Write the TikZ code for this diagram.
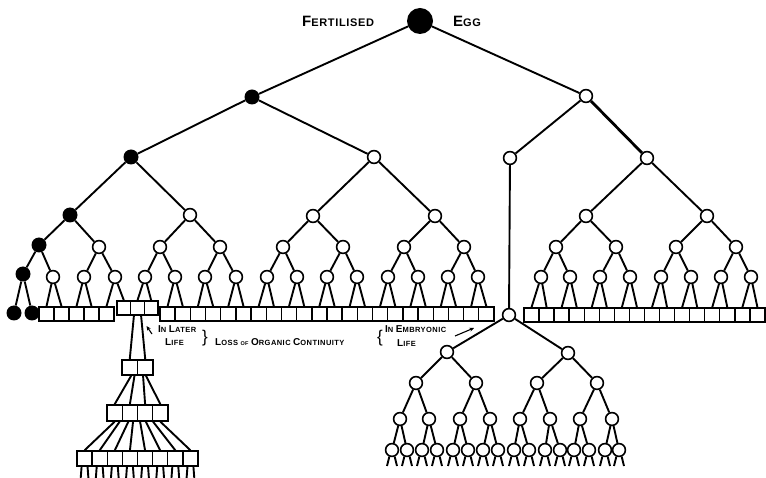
\documentclass[tikz,border=0pt]{standalone}
\usepackage{fontspec}
\setmainfont{Liberation Sans}
\newfontfamily\lettering[LetterSpace=6]{Liberation Sans Bold}
\usetikzlibrary{arrows.meta}
% hand-lettered small capitals
\newcommand\tbig{\fontsize{15}{15}\selectfont}
\newcommand\tsmall{\fontsize{11}{11}\selectfont}
\newcommand\lbig{\fontsize{10}{10}\selectfont}
\newcommand\lsmall{\fontsize{7.5}{7.5}\selectfont}
\newcommand\ltiny{\fontsize{5.5}{5.5}\selectfont}

\begin{document}
\begin{tikzpicture}[x=1pt,y=-1pt,
  wc/.style={circle,draw,line width=1.6pt,fill=white,minimum size=12.8pt,inner sep=0pt},
  bc/.style={circle,fill=black,minimum size=15pt,inner sep=0pt},
  bx/.style={rectangle,draw,line width=1.4pt,fill=white,inner sep=0pt},
  ln/.style={line width=1.9pt},
  lbl/.style={anchor=base west,inner sep=0pt},
  tip/.style={-{Stealth[length=4.5pt,width=4pt]},line width=1.1pt}]
\fill[white] (0,0) rectangle (766,478);
\useasboundingbox (0,0) rectangle (766,478);

% ---------- main lineage ----------
\node[bc,minimum size=26pt] (egg) at (420,21) {};
\node[bc] (a1) at (252,97) {};
\node[wc] (a2) at (586,96) {};
\node[bc] (b1) at (131,157) {};
\node[wc] (b2) at (374,157) {};
\node[bc] (c1) at (70,215) {};
\node[wc] (c2) at (190,215) {};
\node[wc] (c3) at (313,216) {};
\node[wc] (c4) at (435,216) {};
\node[bc] (d1) at (39,245) {};
\foreach \x [count=\i from 2] in {99,160,220,283,343,404,464}
  \node[wc] (d\i) at (\x,247) {};
\node[bc] (e0) at (23,274) {};
\foreach \x [count=\i] in {53,84,115,145,175,205,236,267,297,327,357,388,418,448,478}
  \node[wc] (e\i) at (\x,277) {};
\node[bc] (z1) at (14,313) {};
\node[bc] (z2) at (32,313) {};

% cells of the body
\foreach \i in {1,...,5}
  \node[bx,minimum width=15pt,minimum height=14pt] (p\i) at ({39+15*(\i-0.5)},314) {};
\foreach \i in {1,2,3}
  \node[bx,minimum width=13.67pt,minimum height=14pt] (r\i) at ({117+13.67*(\i-0.5)},308) {};
\foreach \i in {1,...,22}
  \node[bx,minimum width=15.18pt,minimum height=14pt] (m\i) at ({160+15.18*(\i-0.5)},314) {};

\draw[ln] (egg) -- (a1) (egg) -- (a2)
  (a1) -- (b1) (a1) -- (b2)
  (b1) -- (c1) (b1) -- (c2) (b2) -- (c3) (b2) -- (c4)
  (c1) -- (d1) (c1) -- (d2) (c2) -- (d3) (c2) -- (d4)
  (c3) -- (d5) (c3) -- (d6) (c4) -- (d7) (c4) -- (d8)
  (d1) -- (e0) (d1) -- (e1)
  (e0) -- (z1) (e0) -- (z2);
\foreach \i in {2,...,8}{
  \pgfmathtruncatemacro\ja{2*\i-2}
  \pgfmathtruncatemacro\jb{2*\i-1}
  \draw[ln] (d\i) -- (e\ja) (d\i) -- (e\jb);
}
\draw[ln] (e1) -- (p1.north) (e1) -- (p2.north)
  (e2) -- (p3.north) (e2) -- (p4.north)
  (e3) -- (p5.north) (e3) -- (r1.north)
  (e4) -- (r2.north) (e4) -- (r3.north);
\foreach \i in {5,...,15}{
  \pgfmathtruncatemacro\ja{2*\i-9}
  \pgfmathtruncatemacro\jb{2*\i-8}
  \draw[ln] (e\i) -- (m\ja.north) (e\i) -- (m\jb.north);
}

% ---------- right branch ----------
\node[wc] (f1) at (510,158) {};
\node[wc] (f2) at (647,158) {};
\node[wc] (g1) at (586,216) {};
\node[wc] (g2) at (707,216) {};
\foreach \x [count=\i] in {556,616,676,736}
  \node[wc] (h\i) at (\x,247) {};
\foreach \x [count=\i] in {541,570,600,630,661,691,721,751}
  \node[wc] (i\i) at (\x,277) {};
\foreach \i in {1,...,16}
  \node[bx,minimum width=15.06pt,minimum height=14pt] (q\i) at ({524+15.06*(\i-0.5)},315) {};

\draw[ln] (a2) -- (f1);
\draw[line width=2.8pt] (a2) -- (f2);
\draw[ln] (f2) -- (g1) (f2) -- (g2)
  (g1) -- (h1) (g1) -- (h2) (g2) -- (h3) (g2) -- (h4);
\foreach \i in {1,...,4}{
  \pgfmathtruncatemacro\ja{2*\i-1}
  \pgfmathtruncatemacro\jb{2*\i}
  \draw[ln] (h\i) -- (i\ja) (h\i) -- (i\jb);
}
\foreach \i in {1,...,8}{
  \pgfmathtruncatemacro\ja{2*\i-1}
  \pgfmathtruncatemacro\jb{2*\i}
  \draw[ln] (i\i) -- (q\ja.north) (i\i) -- (q\jb.north);
}

% ---------- embryonic germ line ----------
\node[wc] (em) at (509,315) {};
\node[wc] (u1) at (447,352) {};
\node[wc] (u2) at (568,353) {};
\foreach \x [count=\i] in {416,476,537,597}
  \node[wc] (v\i) at (\x,383) {};
\foreach \x [count=\i] in {400,429,460,490,520,550,580,612}
  \node[wc] (w\i) at (\x,419) {};
\foreach \x [count=\i] in {392,407,422,437,453,468,483,498,514,529,545,560,574,589,605,619}{
  \node[wc] (n\i) at (\x,450) {};
  \coordinate (nl\i) at (\x-5,466);
  \coordinate (nr\i) at (\x+5,466);
  \draw[ln] (n\i.-112) -- (nl\i) (n\i.-68) -- (nr\i);
}
\draw[ln] (f1) -- (em)
  (em) -- (u1) (em) -- (u2)
  (u1) -- (v1) (u1) -- (v2) (u2) -- (v3) (u2) -- (v4);
\foreach \i in {1,...,4}{
  \pgfmathtruncatemacro\ja{2*\i-1}
  \pgfmathtruncatemacro\jb{2*\i}
  \draw[ln] (v\i) -- (w\ja) (v\i) -- (w\jb);
}
\foreach \i in {1,...,8}{
  \pgfmathtruncatemacro\ja{2*\i-1}
  \pgfmathtruncatemacro\jb{2*\i}
  \draw[ln] (w\i) -- (n\ja) (w\i) -- (n\jb);
}

% ---------- later cell divisions ----------
\foreach \i in {1,2}
  \node[bx,minimum width=15.5pt,minimum height=15pt] (lp\i) at ({122+15.5*(\i-0.5)},367.5) {};
\foreach \i in {1,...,4}
  \node[bx,minimum width=15.25pt,minimum height=16pt] (lq\i) at ({107+15.25*(\i-0.5)},413) {};
\foreach \i in {1,...,8}{
  \node[bx,minimum width=15.125pt,minimum height=15pt] (ls\i) at ({77+15.125*(\i-0.5)},458.5) {};
  \coordinate (sl\i) at ({77+15.125*(\i-0.5)-4},480);
  \coordinate (sr\i) at ({77+15.125*(\i-0.5)+4},480);
  \draw[ln] (ls\i.-110) -- (sl\i) (ls\i.-70) -- (sr\i);
}
\draw[ln] (r2.-115) -- (lp1.north) (r2.-65) -- (lp2.north)
  (lp1.-80) -- (lq1.north) (lp1.-60) -- (lq2.north)
  (lp2.-105) -- (lq3.north) (lp2.-85) -- (lq4.north)
  (lq1.-90) -- (ls1.north) (lq1.-60) -- (ls2.north)
  (lq2.-100) -- (ls3.north) (lq2.-70) -- (ls4.north)
  (lq3.-120) -- (ls5.north) (lq3.-85) -- (ls6.north)
  (lq4.-130) -- (ls7.north) (lq4.-90) -- (ls8.north);

% ---------- lettering ----------
\node[lbl] (tf) at (302,27) {\lettering\tbig F\tsmall ERTILISED};
\node[lbl] (te) at (453,27) {\lettering\tbig E\tsmall GG};
\node[lbl] (tl1) at (158,333) {\lettering\lbig I\lsmall N \lbig L\lsmall ATER};
\node[lbl] (tl2) at (165,346) {\lettering\lbig L\lsmall IFE};
\node[inner sep=0pt] (br1) at (205,338) {\fontsize{17}{17}\selectfont\}};
\node[lbl] (tloss) at (215,345) {\lettering\lbig L\lsmall OSS {\ltiny OF} \lbig O\lsmall RGANIC \lbig C\lsmall ONTINUITY};
\node[inner sep=0pt] (br2) at (380,338) {\fontsize{17}{17}\selectfont\{};
\node[lbl] (tm1) at (385,333) {\lettering\lbig I\lsmall N \lbig E\lsmall MBRYONIC};
\node[lbl] (tm2) at (397,347) {\lettering\lbig L\lsmall IFE};
\coordinate (ar1) at (152,334);
\coordinate (ar2) at (146.5,326);
\draw[tip] (ar1) -- (ar2);
\coordinate (ar3) at (455,336);
\coordinate (ar4) at (474,328);
\draw[tip] (ar3) -- (ar4);
\end{tikzpicture}
\end{document}
